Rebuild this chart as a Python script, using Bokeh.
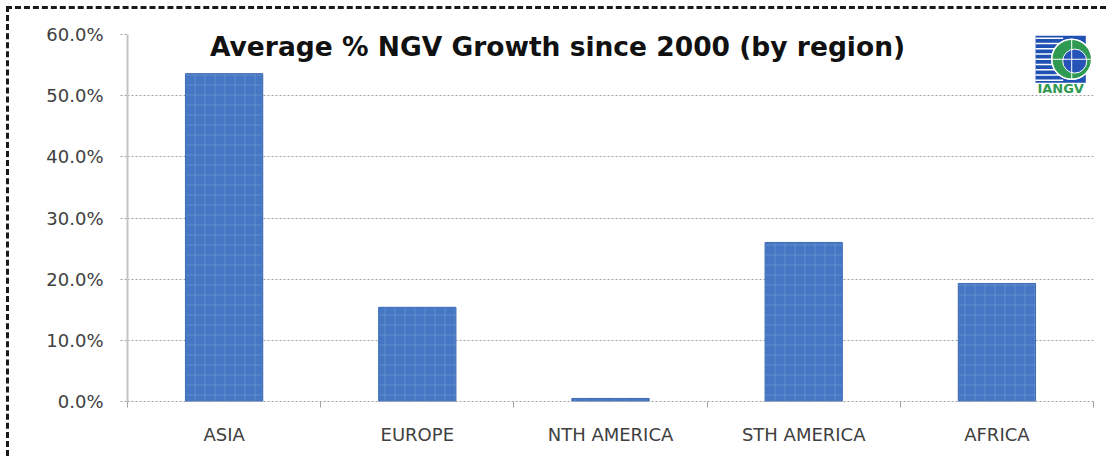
from bokeh.plotting import figure
from bokeh.models import FixedTicker, NumeralTickFormatter, Range1d, Label
from bokeh.embed import file_html
from bokeh.resources import INLINE

categories = ["ASIA", "EUROPE", "NTH AMERICA", "STH AMERICA", "AFRICA"]
growth = [0.536, 0.154, 0.005, 0.260, 0.193]
y_ticks = [0.0, 0.1, 0.2, 0.3, 0.4, 0.5, 0.6]
title_text = "Average % NGV Growth since 2000 (by region)"

n = len(categories)
centers = [i + 0.5 for i in range(n)]

p = figure(width=1100, height=450, output_backend="svg", toolbar_location=None,
           x_range=Range1d(0, n), y_range=Range1d(0, 0.6),
           min_border_left=118, min_border_right=16, min_border_top=25, min_border_bottom=58)
p.outline_line_color = None
p.background_fill_color = "white"
p.border_fill_color = "white"
p.styles = {"border-top": "3px dashed #1a1a1a", "border-left": "3px dashed #1a1a1a",
            "margin-left": "6px", "margin-top": "6px"}

p.vbar(x=centers, top=growth, width=0.4, fill_color="#4677c4", line_color="#3d6bb5",
       line_width=1, hatch_pattern="+", hatch_color="white", hatch_alpha=0.14,
       hatch_scale=10, hatch_weight=1)

# y axis
p.yaxis.ticker = FixedTicker(ticks=y_ticks)
p.yaxis.formatter = NumeralTickFormatter(format="0.0%")
p.yaxis.axis_line_color = "#c4c4c4"
p.yaxis.axis_line_width = 2
p.yaxis.major_tick_line_color = "#a0a0a0"
p.yaxis.major_tick_line_dash = "2 2"
p.yaxis.major_tick_out = 7
p.yaxis.major_tick_in = 0
p.yaxis.minor_tick_line_color = None
p.yaxis.major_label_text_font = "DejaVu Sans"
p.yaxis.major_label_text_font_size = "18px"
p.yaxis.major_label_text_color = "#404040"
p.yaxis.major_label_standoff = 17

# x axis
p.xaxis.ticker = FixedTicker(ticks=centers, minor_ticks=list(range(n + 1)))
p.xaxis.major_label_overrides = {c: cat for c, cat in zip(centers, categories)}
p.xaxis.axis_line_color = "#a0a0a0"
p.xaxis.axis_line_dash = "2 2"
p.xaxis.major_tick_line_color = None
p.xaxis.minor_tick_line_color = "#a0a0a0"
p.xaxis.minor_tick_out = 6
p.xaxis.minor_tick_in = 0
p.xaxis.major_label_text_font = "DejaVu Sans"
p.xaxis.major_label_text_font_size = "18px"
p.xaxis.major_label_text_color = "#404040"
p.xaxis.major_label_standoff = 16

p.xgrid.grid_line_color = None
p.ygrid.grid_line_color = "#a0a0a0"
p.ygrid.grid_line_dash = "2 2"
p.ygrid.grid_line_width = 1

# title inside the plot area
p.add_layout(Label(x=2.226, y=0.58, text=title_text, text_font="DejaVu Sans",
                   text_font_style="bold", text_font_size="26.5px", text_color="#111111",
                   text_align="center", text_baseline="middle"))

# IANGV logo (decoration)
lx0, lx1, ly0, ly1 = 4.70, 4.96, 0.521, 0.598
p.quad(left=[lx0], right=[lx1], bottom=[ly0], top=[ly1], fill_color="#1f50b4", line_color=None)
stripes = [ly0 + (ly1 - ly0) * (k + 0.5) / 9 for k in range(9)]
p.segment(x0=[lx0] * 9, x1=[lx0 + (lx1 - lx0) * 0.55] * 9, y0=stripes, y1=stripes,
          line_color="white", line_width=1.5)
p.scatter(x=[lx0 + (lx1 - lx0) * 0.72], y=[(ly0 + ly1) / 2], size=40, marker="circle",
          fill_color="#2f9a52", line_color="white", line_width=1.5)
p.scatter(x=[lx0 + (lx1 - lx0) * 0.78], y=[(ly0 + ly1) / 2 - 0.003], size=24, marker="circle",
          fill_color="#2653b8", line_color="white", line_width=1)
p.scatter(x=[lx0 + (lx1 - lx0) * 0.72], y=[(ly0 + ly1) / 2], size=40, marker="circle_cross",
          fill_color=None, line_color="white", line_width=1)
p.add_layout(Label(x=(lx0 + lx1) / 2, y=0.511, text="IANGV", text_font="DejaVu Sans",
                   text_font_style="bold", text_font_size="13px", text_color="#2f9a52",
                   text_align="center", text_baseline="middle"))

open("out.html", "w").write(file_html(p, INLINE))
